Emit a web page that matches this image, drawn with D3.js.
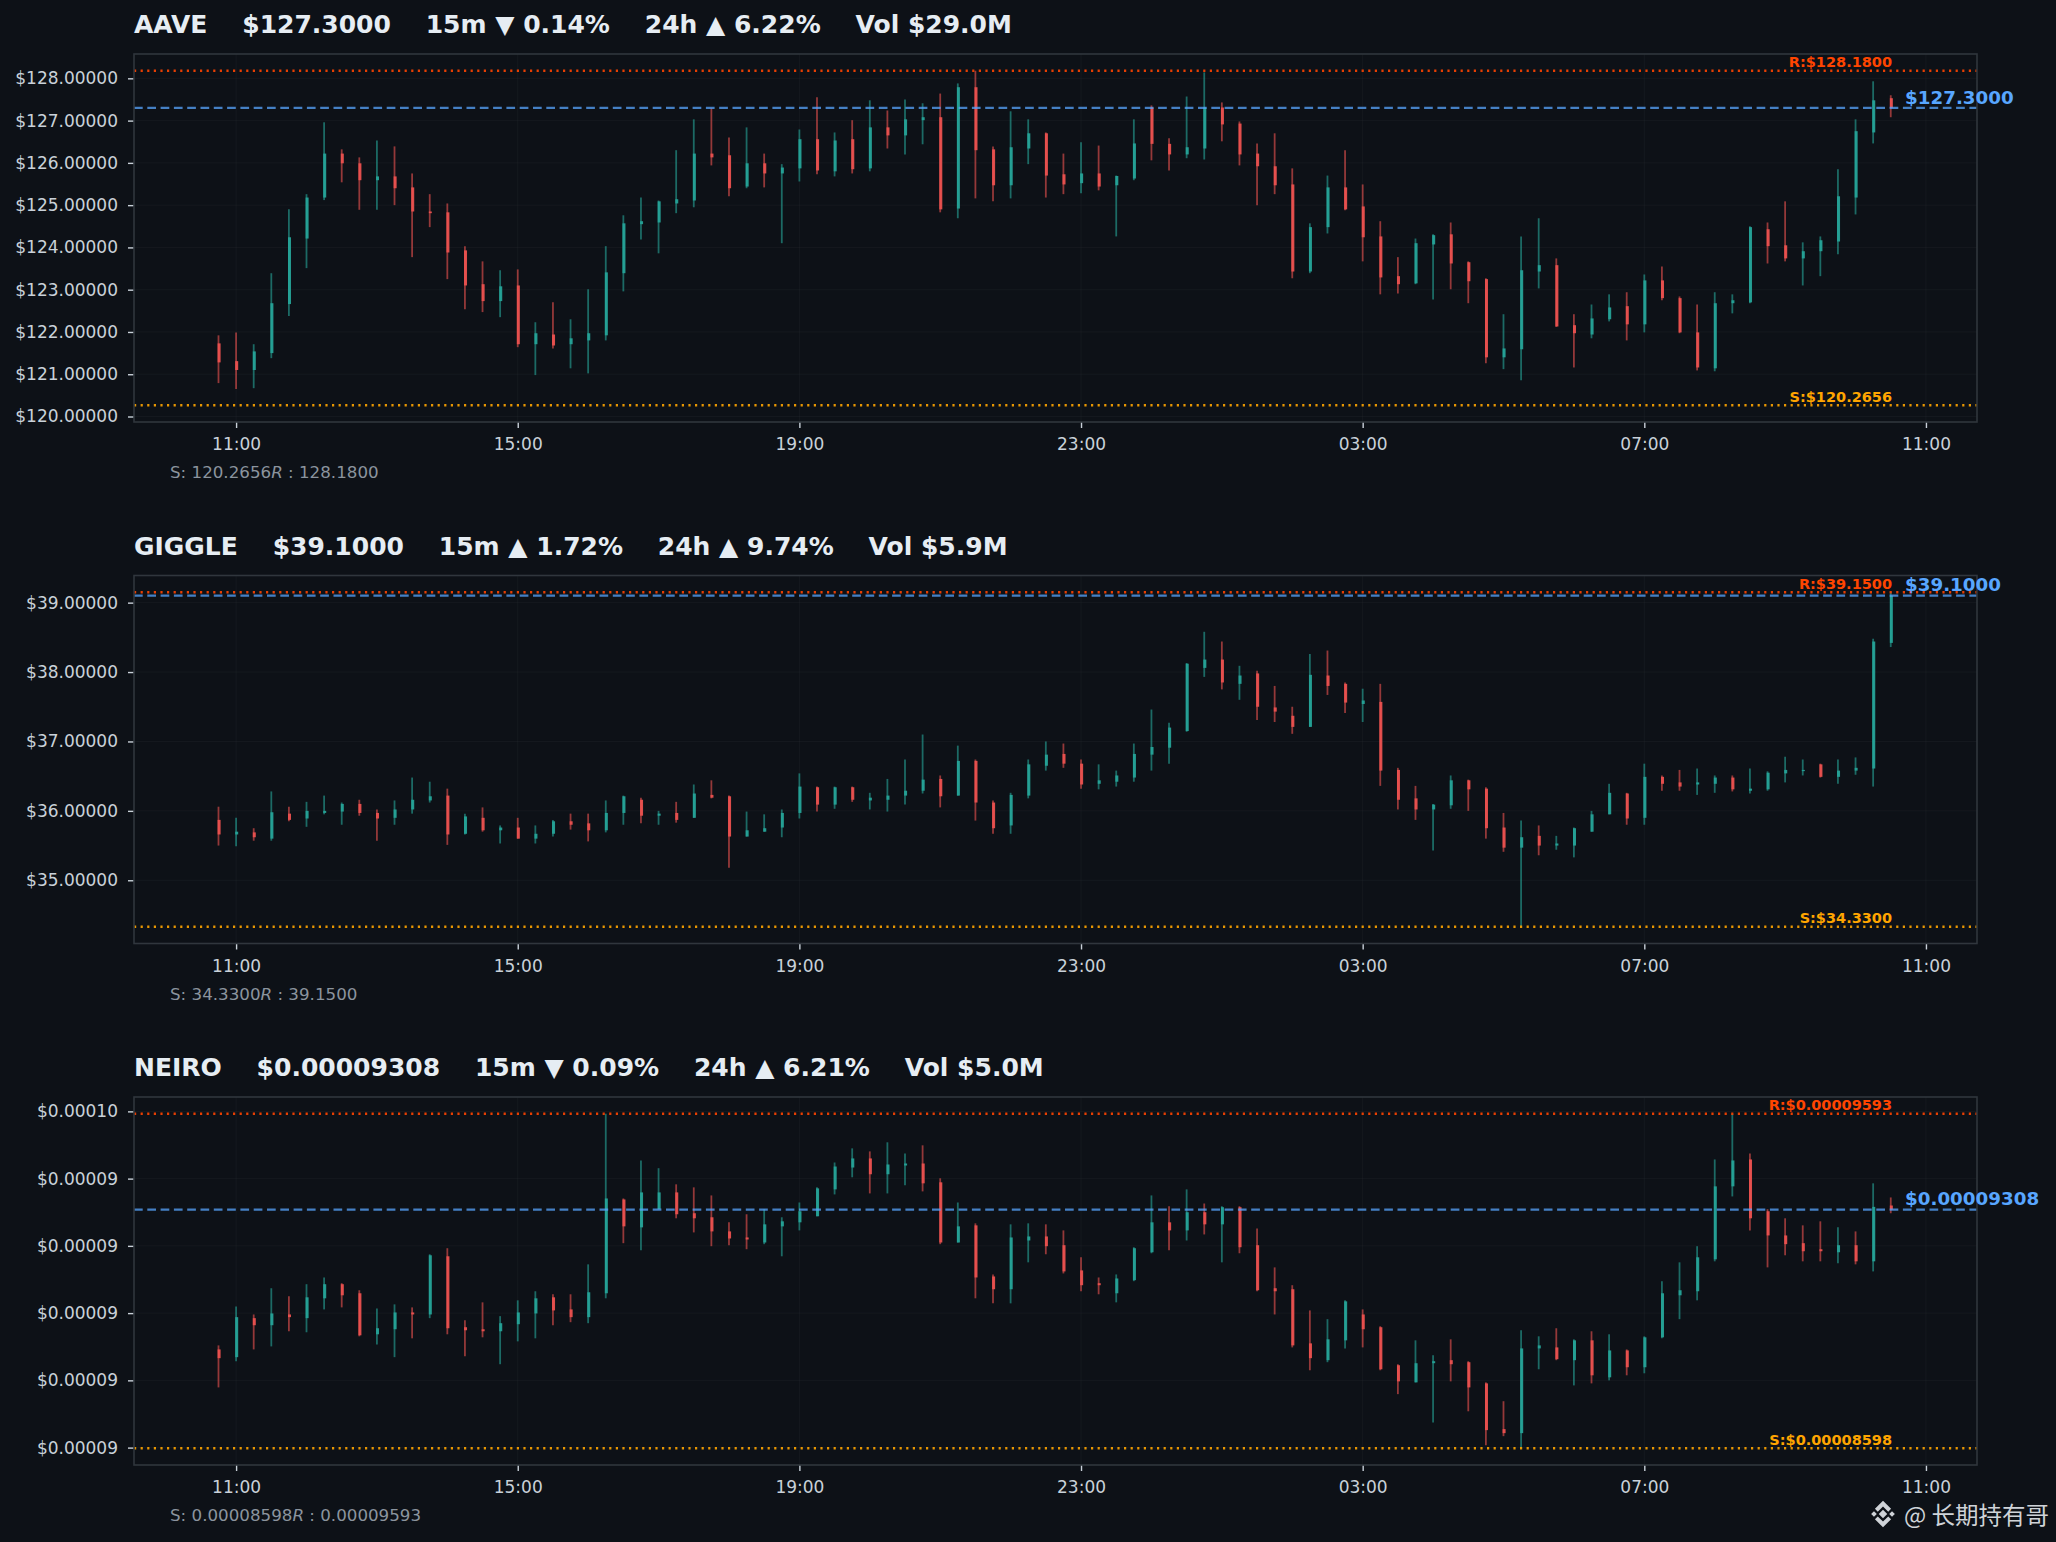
<!DOCTYPE html>
<html>
<head>
<meta charset="utf-8">
<script src="https://cdn.jsdelivr.net/npm/d3@7"></script>
<style>
  html, body { margin: 0; padding: 0; background: #0d1117; }
  svg { display: block; }
  text { font-family: "DejaVu Sans", sans-serif; }
</style>
</head>
<body>
<script>
// ---- data ----
const symbols    = ["AAVE", "GIGGLE", "NEIRO"];
const lastPrice  = [127.30, 39.10, 9.308e-5];
const support    = [120.2656, 34.33, 8.598e-5];
const resistance = [128.18, 39.15, 9.593e-5];
const decimals   = [4, 4, 8];
const chg15m     = [-0.14, 1.72, -0.09];
const chg24h     = [6.22, 9.74, 6.21];
const volume     = ["$29.0M", "$5.9M", "$5.0M"];

const yTicks = [
  [120, 121, 122, 123, 124, 125, 126, 127, 128],
  [35, 36, 37, 38, 39],
  [8.6e-5, 8.8e-5, 9.0e-5, 9.2e-5, 9.4e-5, 9.6e-5]
];
const xTicks = ["2025-01-01T11:00Z", "2025-01-01T15:00Z", "2025-01-01T19:00Z", "2025-01-01T23:00Z",
                "2025-01-02T03:00Z", "2025-01-02T07:00Z", "2025-01-02T11:00Z"].map(s => new Date(s));
const xDomain = [new Date("2025-01-01T09:33Z"), new Date("2025-01-02T11:43:30Z")];
const firstCandle = new Date("2025-01-01T10:45Z");
const lastCandleEnd = new Date("2025-01-02T10:45Z");

// [open, high, low, close], 15m candles
const aave = [
  [121.73,121.92,120.79,121.28],[121.31,121.99,120.65,121.10],[121.10,121.71,120.67,121.54],[121.50,123.39,121.38,122.68],
  [122.66,124.90,122.38,124.24],[124.21,125.26,123.51,125.18],[125.18,126.96,125.12,126.22],[126.22,126.32,125.54,125.99],
  [125.99,126.13,124.89,125.59],[125.59,126.53,124.89,125.68],[125.68,126.39,125.00,125.40],[125.42,125.75,123.77,124.85],
  [124.85,125.26,124.48,124.81],[124.83,125.04,123.25,123.88],[123.93,124.03,122.54,123.10],[123.13,123.67,122.47,122.73],
  [122.73,123.46,122.35,123.08],[123.10,123.48,121.64,121.71],[121.71,122.23,120.98,121.97],[121.94,122.70,121.61,121.68],
  [121.71,122.30,121.14,121.85],[121.80,123.01,121.02,121.97],[121.92,124.03,121.80,123.41],[123.39,124.76,122.96,124.57],
  [124.55,125.18,124.19,124.62],[124.59,125.11,123.86,125.09],[125.04,126.30,124.81,125.14],[125.11,127.03,124.95,126.22],
  [126.22,127.29,125.94,126.13],[126.18,126.60,125.21,125.40],[125.44,126.84,125.40,125.99],[125.99,126.22,125.42,125.75],
  [125.75,125.97,124.10,125.89],[125.87,126.79,125.56,126.56],[126.56,127.55,125.73,125.82],[125.80,126.72,125.68,126.53],
  [126.56,127.01,125.75,125.85],[125.87,127.48,125.80,126.84],[126.84,127.24,126.34,126.65],[126.65,127.50,126.20,127.03],
  [127.01,127.41,126.44,127.08],[127.08,127.64,124.83,124.90],[124.92,127.88,124.69,127.79],[127.79,128.18,125.16,126.30],
  [126.32,126.39,125.09,125.47],[125.47,127.22,125.16,126.37],[126.34,127.03,125.97,126.70],[126.70,126.72,125.18,125.70],
  [125.73,126.22,125.26,125.49],[125.52,126.49,125.28,125.75],[125.75,126.41,125.35,125.44],[125.47,125.70,124.26,125.69],
  [125.63,127.03,125.59,126.46],[127.31,127.36,126.06,126.45],[126.45,126.58,125.82,126.20],[126.20,127.57,126.11,126.37],
  [126.34,128.14,126.08,127.31],[127.31,127.43,126.51,126.91],[126.93,126.98,125.94,126.20],[126.22,126.46,125.00,125.92],
  [125.92,126.70,125.26,125.47],[125.49,125.87,123.27,123.43],[123.43,124.57,123.39,124.48],[124.48,125.70,124.33,125.42],
  [125.42,126.30,124.88,124.90],[124.97,125.49,123.67,124.24],[124.26,124.62,122.89,123.29],[123.32,123.77,122.91,123.13],
  [123.15,124.21,123.13,124.10],[124.07,124.31,122.77,124.29],[124.31,124.59,123.01,123.62],[123.65,123.67,122.68,123.20],
  [123.25,123.27,121.26,121.40],[121.40,122.42,121.12,121.61],[121.59,124.26,120.86,123.46],[123.43,124.69,123.03,123.58],
  [123.58,123.74,122.12,122.13],[122.16,122.42,121.16,121.97],[121.94,122.65,121.85,122.32],[122.30,122.89,122.25,122.58],
  [122.61,122.94,121.80,122.18],[122.18,123.36,121.99,123.22],[123.22,123.55,122.75,122.80],[122.80,122.84,121.97,121.99],
  [121.99,122.65,121.09,121.16],[121.14,122.94,121.07,122.68],[122.68,122.89,122.44,122.75],[122.70,124.50,122.68,124.48],
  [124.43,124.59,123.62,124.03],[124.05,125.09,123.67,123.74],[123.74,124.12,123.10,123.91],[123.91,124.26,123.32,124.17],
  [124.14,125.85,123.84,125.21],[125.18,127.03,124.78,126.75],[126.72,127.93,126.46,127.48],[127.53,127.60,127.08,127.30]
];

const giggle = [
  [35.87,36.06,35.50,35.66],[35.66,35.90,35.49,35.70],[35.69,35.75,35.57,35.62],[35.60,36.28,35.57,35.98],
  [35.96,36.06,35.85,35.87],[35.89,36.13,35.77,36.00],[35.97,36.22,35.95,36.00],[35.99,36.12,35.80,36.10],
  [36.10,36.16,35.93,35.97],[35.97,36.02,35.57,35.89],[35.90,36.15,35.80,36.02],[36.02,36.48,35.96,36.16],
  [36.15,36.42,36.12,36.21],[36.22,36.32,35.51,35.66],[35.67,35.96,35.66,35.92],[35.90,36.05,35.70,35.72],
  [35.72,35.79,35.53,35.76],[35.76,35.90,35.60,35.60],[35.60,35.79,35.53,35.67],[35.67,35.87,35.63,35.85],
  [35.85,35.96,35.73,35.80],[35.82,35.96,35.56,35.72],[35.72,36.15,35.69,35.97],[35.97,36.22,35.80,36.21],
  [36.16,36.19,35.82,35.93],[35.93,36.00,35.80,35.96],[35.97,36.13,35.83,35.87],[35.90,36.38,35.90,36.25],
  [36.23,36.44,36.18,36.19],[36.21,36.22,35.18,35.63],[35.63,35.99,35.63,35.72],[35.70,35.95,35.70,35.75],
  [35.76,36.02,35.62,35.97],[35.97,36.54,35.89,36.35],[36.34,36.35,35.99,36.09],[36.09,36.35,36.03,36.34],
  [36.34,36.35,36.13,36.16],[36.15,36.26,36.02,36.19],[36.16,36.46,35.99,36.22],[36.22,36.74,36.09,36.29],
  [36.29,37.10,36.25,36.45],[36.46,36.51,36.05,36.21],[36.22,36.94,36.22,36.72],[36.72,36.74,35.86,36.12],
  [36.12,36.15,35.67,35.75],[35.79,36.26,35.67,36.23],[36.22,36.74,36.18,36.67],[36.65,37.00,36.58,36.81],
  [36.82,36.97,36.62,36.68],[36.68,36.74,36.32,36.38],[36.39,36.67,36.31,36.44],[36.42,36.58,36.35,36.51],
  [36.48,36.97,36.42,36.82],[36.81,37.46,36.58,36.92],[36.91,37.27,36.68,37.20],[37.15,38.13,37.14,38.12],
  [38.06,38.58,37.93,38.18],[38.18,38.44,37.75,37.85],[37.83,38.09,37.60,37.95],[37.98,38.02,37.31,37.50],
  [37.49,37.80,37.28,37.43],[37.37,37.50,37.11,37.21],[37.21,38.26,37.21,37.96],[37.95,38.31,37.67,37.80],
  [37.83,37.85,37.41,37.56],[37.54,37.76,37.28,37.59],[37.57,37.83,36.36,36.58],[36.59,36.62,36.02,36.16],
  [36.18,36.36,35.87,36.02],[36.02,36.10,35.43,36.09],[36.08,36.51,36.03,36.44],[36.44,36.45,36.00,36.31],
  [36.32,36.34,35.60,35.75],[35.76,35.97,35.41,35.47],[35.47,35.86,34.33,35.62],[35.64,35.79,35.36,35.50],
  [35.50,35.64,35.44,35.53],[35.50,35.76,35.33,35.75],[35.70,36.00,35.70,35.95],[35.95,36.39,35.95,36.26],
  [36.25,36.26,35.80,35.89],[35.90,36.68,35.80,36.49],[36.49,36.51,36.29,36.39],[36.41,36.59,36.29,36.35],
  [36.38,36.61,36.23,36.41],[36.39,36.51,36.26,36.48],[36.48,36.51,36.28,36.31],[36.29,36.61,36.25,36.32],
  [36.31,36.57,36.29,36.55],[36.54,36.78,36.41,36.59],[36.58,36.74,36.51,36.59],[36.67,36.68,36.48,36.49],
  [36.49,36.74,36.39,36.58],[36.58,36.77,36.52,36.62],[36.61,38.48,36.35,38.44],[38.42,39.15,38.36,39.10]
];

const neiro = [
  [8.892e-5,8.904e-5,8.779e-5,8.866e-5],[8.869e-5,9.020e-5,8.857e-5,8.988e-5],[8.985e-5,8.996e-5,8.892e-5,8.964e-5],[8.964e-5,9.074e-5,8.901e-5,8.999e-5],
  [8.996e-5,9.050e-5,8.946e-5,8.988e-5],[8.985e-5,9.086e-5,8.943e-5,9.047e-5],[9.044e-5,9.106e-5,9.011e-5,9.086e-5],[9.086e-5,9.089e-5,9.017e-5,9.053e-5],
  [9.059e-5,9.068e-5,8.931e-5,8.934e-5],[8.937e-5,9.014e-5,8.907e-5,8.955e-5],[8.952e-5,9.026e-5,8.869e-5,9.002e-5],[9.002e-5,9.017e-5,8.925e-5,8.996e-5],
  [8.996e-5,9.175e-5,8.985e-5,9.172e-5],[9.169e-5,9.193e-5,8.937e-5,8.955e-5],[8.958e-5,8.979e-5,8.872e-5,8.949e-5],[8.952e-5,9.032e-5,8.928e-5,8.946e-5],
  [8.946e-5,8.991e-5,8.848e-5,8.970e-5],[8.967e-5,9.038e-5,8.916e-5,9.002e-5],[8.999e-5,9.065e-5,8.925e-5,9.044e-5],[9.047e-5,9.056e-5,8.964e-5,9.008e-5],
  [9.011e-5,9.056e-5,8.973e-5,8.988e-5],[8.988e-5,9.145e-5,8.970e-5,9.062e-5],[9.059e-5,9.593e-5,9.044e-5,9.341e-5],[9.338e-5,9.341e-5,9.208e-5,9.258e-5],
  [9.255e-5,9.454e-5,9.187e-5,9.359e-5],[9.309e-5,9.431e-5,9.309e-5,9.359e-5],[9.359e-5,9.383e-5,9.282e-5,9.294e-5],[9.297e-5,9.374e-5,9.240e-5,9.282e-5],
  [9.285e-5,9.350e-5,9.199e-5,9.243e-5],[9.243e-5,9.270e-5,9.202e-5,9.222e-5],[9.225e-5,9.294e-5,9.190e-5,9.219e-5],[9.210e-5,9.309e-5,9.205e-5,9.264e-5],
  [9.258e-5,9.285e-5,9.169e-5,9.273e-5],[9.270e-5,9.329e-5,9.246e-5,9.303e-5],[9.288e-5,9.374e-5,9.288e-5,9.371e-5],[9.368e-5,9.448e-5,9.353e-5,9.436e-5],
  [9.433e-5,9.490e-5,9.404e-5,9.460e-5],[9.460e-5,9.481e-5,9.356e-5,9.413e-5],[9.413e-5,9.508e-5,9.356e-5,9.442e-5],[9.439e-5,9.475e-5,9.380e-5,9.445e-5],
  [9.445e-5,9.499e-5,9.362e-5,9.386e-5],[9.389e-5,9.401e-5,9.205e-5,9.210e-5],[9.210e-5,9.329e-5,9.210e-5,9.258e-5],[9.261e-5,9.267e-5,9.044e-5,9.106e-5],
  [9.109e-5,9.115e-5,9.029e-5,9.071e-5],[9.071e-5,9.264e-5,9.029e-5,9.225e-5],[9.216e-5,9.267e-5,9.151e-5,9.228e-5],[9.228e-5,9.264e-5,9.175e-5,9.199e-5],
  [9.202e-5,9.246e-5,9.118e-5,9.124e-5],[9.127e-5,9.166e-5,9.065e-5,9.083e-5],[9.089e-5,9.106e-5,9.056e-5,9.083e-5],[9.059e-5,9.115e-5,9.032e-5,9.103e-5],
  [9.098e-5,9.196e-5,9.095e-5,9.193e-5],[9.181e-5,9.350e-5,9.178e-5,9.270e-5],[9.270e-5,9.318e-5,9.187e-5,9.246e-5],[9.246e-5,9.368e-5,9.216e-5,9.300e-5],
  [9.300e-5,9.326e-5,9.234e-5,9.264e-5],[9.264e-5,9.318e-5,9.151e-5,9.315e-5],[9.315e-5,9.318e-5,9.178e-5,9.196e-5],[9.202e-5,9.252e-5,9.065e-5,9.068e-5],
  [9.074e-5,9.136e-5,8.996e-5,9.065e-5],[9.071e-5,9.083e-5,8.898e-5,8.904e-5],[8.910e-5,9.008e-5,8.830e-5,8.866e-5],[8.860e-5,8.982e-5,8.854e-5,8.922e-5],
  [8.919e-5,9.038e-5,8.895e-5,9.035e-5],[8.996e-5,9.011e-5,8.898e-5,8.952e-5],[8.958e-5,8.961e-5,8.830e-5,8.833e-5],[8.845e-5,8.848e-5,8.759e-5,8.797e-5],
  [8.794e-5,8.919e-5,8.794e-5,8.851e-5],[8.851e-5,8.875e-5,8.675e-5,8.857e-5],[8.860e-5,8.922e-5,8.797e-5,8.848e-5],[8.854e-5,8.857e-5,8.708e-5,8.779e-5],
  [8.791e-5,8.794e-5,8.607e-5,8.652e-5],[8.655e-5,8.738e-5,8.634e-5,8.643e-5],[8.643e-5,8.949e-5,8.598e-5,8.895e-5],[8.895e-5,8.931e-5,8.833e-5,8.904e-5],
  [8.898e-5,8.955e-5,8.860e-5,8.863e-5],[8.860e-5,8.922e-5,8.785e-5,8.919e-5],[8.919e-5,8.946e-5,8.791e-5,8.815e-5],[8.809e-5,8.937e-5,8.800e-5,8.889e-5],
  [8.889e-5,8.892e-5,8.815e-5,8.839e-5],[8.839e-5,8.931e-5,8.821e-5,8.928e-5],[8.928e-5,9.095e-5,8.925e-5,9.059e-5],[9.053e-5,9.151e-5,8.982e-5,9.068e-5],
  [9.065e-5,9.199e-5,9.038e-5,9.166e-5],[9.160e-5,9.457e-5,9.154e-5,9.377e-5],[9.377e-5,9.593e-5,9.347e-5,9.454e-5],[9.457e-5,9.475e-5,9.246e-5,9.282e-5],
  [9.303e-5,9.309e-5,9.136e-5,9.231e-5],[9.231e-5,9.282e-5,9.172e-5,9.205e-5],[9.208e-5,9.261e-5,9.154e-5,9.184e-5],[9.190e-5,9.273e-5,9.154e-5,9.184e-5],
  [9.181e-5,9.255e-5,9.148e-5,9.202e-5],[9.202e-5,9.243e-5,9.145e-5,9.154e-5],[9.154e-5,9.386e-5,9.124e-5,9.316e-5],[9.320e-5,9.344e-5,9.297e-5,9.308e-5]
];

const candles = [aave, giggle, neiro];

// ---- layout ----
const W = 2056, H = 1542;
const plotLeft = 134, plotRight = 1977;
const panelH = 368, panelStep = 521.5, firstTop = 54;
const upColor = "#26a69a", downColor = "#ef5350";
const textColor = "#c9d1d9";

const times = d3.utcMinute.every(15).range(firstCandle, lastCandleEnd);

const svg = d3.select("body").append("svg")
  .attr("width", W).attr("height", H)
  .style("background", "#0d1117");

const x = d3.scaleUtc().domain(xDomain).range([plotLeft, plotRight]);
const yFmt = d3.format("$.5f");

symbols.forEach((sym, i) => {
  const top = firstTop + i * panelStep;
  const bottom = top + panelH;
  const span = resistance[i] - support[i];
  const y = d3.scaleLinear()
    .domain([support[i] - span * 0.05, resistance[i] + span * 0.05])
    .range([bottom, top]);
  const fmt = d3.format(`.${decimals[i]}f`);

  const g = svg.append("g");

  // faint grid
  g.append("g").selectAll("line").data(yTicks[i]).join("line")
    .attr("x1", plotLeft).attr("x2", plotRight)
    .attr("y1", d => y(d)).attr("y2", d => y(d))
    .attr("stroke", "#30363d").attr("stroke-opacity", 0.22).attr("stroke-width", 1);
  g.append("g").selectAll("line").data(xTicks).join("line")
    .attr("x1", d => x(d)).attr("x2", d => x(d))
    .attr("y1", top).attr("y2", bottom)
    .attr("stroke", "#30363d").attr("stroke-opacity", 0.22).attr("stroke-width", 1);

  // axes
  const yAxis = g.append("g")
    .attr("transform", `translate(${plotLeft},0)`)
    .call(d3.axisLeft(y).tickValues(yTicks[i]).tickFormat(yFmt).tickSize(6).tickPadding(10));
  const xAxis = g.append("g")
    .attr("transform", `translate(0,${bottom})`)
    .call(d3.axisBottom(x).tickValues(xTicks).tickFormat(d3.utcFormat("%H:%M")).tickSize(6).tickPadding(10));
  [yAxis, xAxis].forEach(a => {
    a.select(".domain").remove();
    a.selectAll(".tick line").attr("stroke", textColor).attr("stroke-width", 1.4);
    a.selectAll(".tick text").attr("fill", textColor)
      .style("font-family", "DejaVu Sans").style("font-size", "17px");
  });

  // candles
  const rows = candles[i].map((d, k) => ({ t: times[k], o: d[0], h: d[1], l: d[2], c: d[3] }));
  const col = d => d.c >= d.o ? upColor : downColor;

  g.append("g").selectAll("line").data(rows).join("line")
    .attr("x1", d => x(d.t)).attr("x2", d => x(d.t))
    .attr("y1", d => y(d.h)).attr("y2", d => y(d.l))
    .attr("stroke", col).attr("stroke-opacity", 0.6).attr("stroke-width", 1.8);

  g.append("g").selectAll("rect").data(rows).join("rect")
    .attr("x", d => x(d.t) - 0.9).attr("width", 3)
    .attr("y", d => y(Math.max(d.o, d.c)))
    .attr("height", d => Math.max(1.2, Math.abs(y(d.o) - y(d.c))))
    .attr("fill", col).attr("fill-opacity", 0.92);

  // support / resistance / last price lines
  const hline = (v, color, dash, op) => g.append("line")
    .attr("x1", plotLeft).attr("x2", plotRight)
    .attr("y1", y(v)).attr("y2", y(v))
    .attr("stroke", color).attr("stroke-width", 2.3)
    .attr("stroke-dasharray", dash).attr("stroke-opacity", op);
  hline(resistance[i], "#ff4500", "2.2 4.4", 0.9);
  hline(support[i], "#ffa500", "2.2 4.4", 0.9);
  hline(lastPrice[i], "#58a6ff", "8.7 4.6", 0.75);

  // frame
  g.append("rect")
    .attr("x", plotLeft).attr("y", top)
    .attr("width", plotRight - plotLeft).attr("height", panelH)
    .attr("fill", "none").attr("stroke", "#30363d").attr("stroke-width", 1.6);

  // level labels
  g.append("text")
    .attr("x", 1892).attr("y", y(resistance[i]) - 3.4)
    .attr("text-anchor", "end").attr("fill", "#ff4500")
    .style("font-size", "14.5px").style("font-weight", "bold")
    .text(`R:$${fmt(resistance[i])}`);
  g.append("text")
    .attr("x", 1892).attr("y", y(support[i]) - 3.4)
    .attr("text-anchor", "end").attr("fill", "#ffa500")
    .style("font-size", "14.5px").style("font-weight", "bold")
    .text(`S:$${fmt(support[i])}`);
  g.append("text")
    .attr("x", 1905).attr("y", y(lastPrice[i]) - 4.3)
    .attr("fill", "#58a6ff")
    .style("font-size", "18.3px").style("font-weight", "bold")
    .text(`$${fmt(lastPrice[i])}`);

  // title
  const arrow = v => v < 0 ? "▼" : "▲";
  g.append("text")
    .attr("x", plotLeft).attr("y", top - 21)
    .attr("fill", "#e6edf3")
    .attr("xml:space", "preserve").style("white-space", "pre")
    .style("font-size", "25px").style("font-weight", "bold")
    .text(`${sym}    $${fmt(lastPrice[i])}    15m ${arrow(chg15m[i])} ${Math.abs(chg15m[i]).toFixed(2)}%    24h ${arrow(chg24h[i])} ${Math.abs(chg24h[i]).toFixed(2)}%    Vol ${volume[i]}`);

  // S/R footnote
  const note = g.append("text")
    .attr("x", 170).attr("y", bottom + 56)
    .attr("fill", "#8b949e")
    .attr("xml:space", "preserve").style("white-space", "pre")
    .style("font-size", "16.7px");
  note.append("tspan").text(`S: ${fmt(support[i])}`);
  note.append("tspan").style("font-style", "italic").text("R");
  note.append("tspan").text(` : ${fmt(resistance[i])}`);
});

// watermark
const wm = svg.append("g").attr("fill", "#cfd3d8");
const logo = wm.append("g").attr("transform", "translate(1883,1514) scale(0.95)");
logo.append("polygon").attr("points", "0,-4.5 4.5,0 0,4.5 -4.5,0");
logo.append("polygon").attr("points", "-9.5,-3 -6.5,0 -9.5,3 -12.5,0");
logo.append("polygon").attr("points", "9.5,-3 12.5,0 9.5,3 6.5,0");
logo.append("polygon").attr("points", "0,-14 8.5,-5.5 5.5,-2.5 0,-8 -5.5,-2.5 -8.5,-5.5");
logo.append("polygon").attr("points", "0,14 8.5,5.5 5.5,2.5 0,8 -5.5,2.5 -8.5,5.5");
wm.append("text")
  .attr("x", 1904).attr("y", 1524)
  .style("font-family", "'Noto Sans CJK SC', 'DejaVu Sans', sans-serif")
  .style("font-size", "23.5px")
  .text("@ 长期持有哥");
</script>
</body>
</html>
